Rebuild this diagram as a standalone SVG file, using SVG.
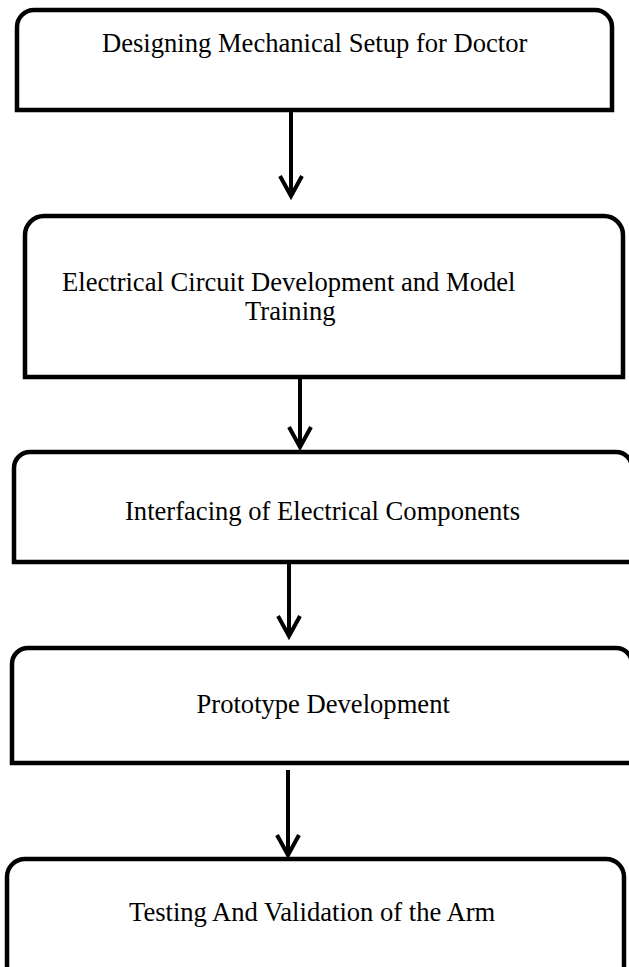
<svg xmlns="http://www.w3.org/2000/svg" width="629" height="967" viewBox="0 0 629 967">
<style>
.box{fill:#fff;stroke:#000;stroke-width:4.5;stroke-linejoin:miter}
.lbl{font-family:"Liberation Serif","Times New Roman",serif;font-size:26.6px;fill:#000}
.conn{stroke:#000;stroke-width:4;fill:none}
.halo{fill:#e6e6e6}
</style>
<defs>
<marker id="arr" markerUnits="userSpaceOnUse" markerWidth="30" markerHeight="30" refX="0" refY="0" orient="auto" overflow="visible">
<path d="M-20,-11 L0,0 L-20,11" fill="none" stroke="#000" stroke-width="4" stroke-linejoin="miter"/>
</marker>
</defs>
<rect width="629" height="967" fill="#fff"/>
<g id="node1">
<path class="box" d="M17,110 V27 A17,17 0 0 1 34,10 H595 A17,17 0 0 1 612,27 V110 Z"/>
<text class="lbl" x="102" y="52">Designing Mechanical Setup for Doctor</text>
</g>
<g id="node2">
<path class="box" d="M25,377 V235 A19,19 0 0 1 44,216 H604 A19,19 0 0 1 623,235 V377 Z"/>
<text class="lbl" x="62" y="291">Electrical Circuit Development and Model</text>
<text class="lbl" x="245" y="320">Training</text>
</g>
<g id="node3">
<path class="box" d="M14,562 V468 A16,16 0 0 1 30,452 H616 A16,16 0 0 1 632,468 V562 Z"/>
<text class="lbl" x="125" y="519.5">Interfacing of Electrical Components</text>
</g>
<g id="node4">
<path class="box" d="M12,763 V664 A16,16 0 0 1 28,648 H616 A16,16 0 0 1 632,664 V763 Z"/>
<text class="lbl" x="196.5" y="713">Prototype Development</text>
</g>
<g id="node5">
<path class="box" d="M7,980 V877 A18,18 0 0 1 25,859 H606 A18,18 0 0 1 624,877 V980"/>
<text class="lbl" x="129" y="920.5">Testing And Validation of the Arm</text>
</g>
<g id="connectors">
<line class="conn" x1="291" y1="112" x2="291" y2="196" marker-end="url(#arr)"/>
<line class="conn" x1="300" y1="379" x2="300" y2="447" marker-end="url(#arr)"/>
<line class="conn" x1="289" y1="564" x2="289" y2="636" marker-end="url(#arr)"/>
<line class="conn" x1="288" y1="770" x2="288" y2="855" stroke-width="3.5" marker-end="url(#arr)"/>
</g>
</svg>
